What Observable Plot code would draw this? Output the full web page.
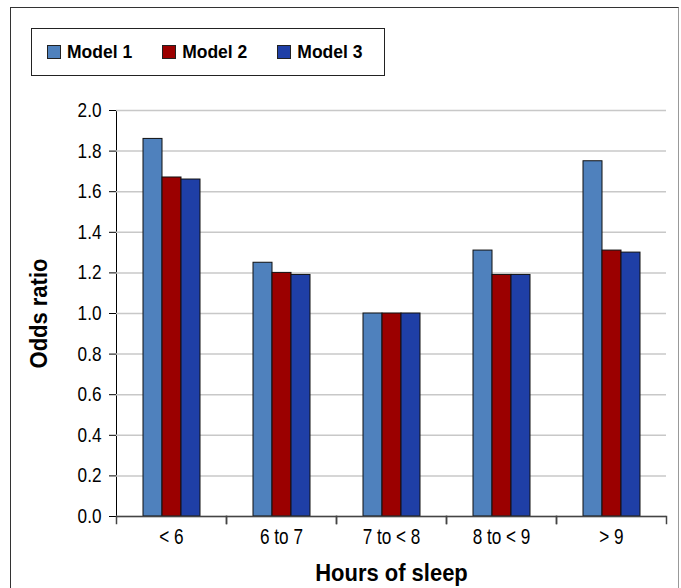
<!DOCTYPE html>
<html>
<head>
<meta charset="utf-8">
<script src="https://cdn.jsdelivr.net/npm/d3@7"></script>
<script src="https://cdn.jsdelivr.net/npm/@observablehq/plot@0.6"></script>
<style>
  html, body { margin: 0; padding: 0; background: #fff; }
  #wrap { position: relative; width: 681px; height: 588px; overflow: hidden; }
  #border { position: absolute; left: 10px; top: 7px; width: 667px; height: 600px;
            border-left: 1.5px solid #333; border-top: 1.5px solid #333; border-right: 1.5px solid #999; }
  #legend { position: absolute; left: 31px; top: 28px; width: 354px; height: 48px;
            border: 1.5px solid #222; display: flex; align-items: center; padding-left: 15px; box-sizing: border-box;
            font-family: "Liberation Sans", Arial, sans-serif; font-weight: bold; font-size: 17.5px; white-space: nowrap; }
  #legend .item { display: flex; align-items: center; margin-right: 30px; flex-shrink: 0; }
  #legend .sw { width: 12px; height: 12px; border: 1px solid #222; margin-right: 6px; flex-shrink: 0; }
  #chart { position: absolute; left: 0; top: 0; }
  #chart [aria-label="y-axis label"] text, #chart [aria-label="fx-axis label"] text { font-size: 24px; font-weight: bold; font-family: "Liberation Sans", Arial, sans-serif; }
  #chart [aria-label="y-axis tick label"] { font-family: "Liberation Sans", Arial, sans-serif; font-size: 20px; }
  #chart [aria-label="fx-axis tick label"] { font-family: "Liberation Sans", Arial, sans-serif; font-size: 22px; }
</style>
</head>
<body>
<div id="wrap">
  <div id="border"></div>
  <div id="legend"></div>
  <div id="chart"></div>
</div>
<script>
const categories = ["< 6", "6 to 7", "7 to < 8", "8 to < 9", "> 9"];
const models = ["Model 1", "Model 2", "Model 3"];
const model1 = [1.86, 1.25, 1.00, 1.31, 1.75];
const model2 = [1.67, 1.20, 1.00, 1.19, 1.31];
const model3 = [1.66, 1.19, 1.00, 1.19, 1.30];
const colors = ["#4f81bd", "#9b0000", "#1f3fa6"];
const yTicks = [0, 0.2, 0.4, 0.6, 0.8, 1.0, 1.2, 1.4, 1.6, 1.8, 2.0];
const xTitle = "Hours of sleep";
const yTitle = "Odds ratio";

const series = [model1, model2, model3];
const data = categories.flatMap((c, i) => models.map((m, j) => ({category: c, model: m, value: series[j][i]})));

// legend
const legend = document.getElementById("legend");
models.forEach((m, j) => {
  const it = document.createElement("div");
  it.className = "item";
  const sw = document.createElement("span");
  sw.className = "sw";
  sw.style.background = colors[j];
  const tx = document.createElement("span");
  tx.textContent = m;
  it.appendChild(sw); it.appendChild(tx);
  legend.appendChild(it);
});

const chart = Plot.plot({
  width: 681,
  height: 588,
  marginLeft: 114,
  marginRight: 13,
  marginTop: 110,
  marginBottom: 72,
  style: {background: "transparent", fontFamily: "Liberation Sans, Arial, sans-serif", fontSize: "17.5px", color: "#000"},
  fx: {domain: categories, padding: 0, label: xTitle, labelAnchor: "center", labelOffset: 64, tickSize: 0, tickPadding: 12},
  x: {domain: models, paddingInner: 0, paddingOuter: 1.275, axis: null},
  y: {domain: [0, 2], ticks: yTicks, tickFormat: d3.format(".1f"), tickSize: 7, tickPadding: 8, line: true,
      label: yTitle, labelAnchor: "center", labelOffset: 87, labelArrow: "none"},
  color: {domain: models, range: colors},
  marks: [
    Plot.gridY(yTicks, {stroke: "#c8c8c8", strokeOpacity: 1, strokeWidth: 1.5}),
    Plot.barY(data, {fx: "category", x: "model", y: "value", fill: "model", stroke: "#111", strokeWidth: 1}),
    Plot.ruleY([0], {stroke: "#444", strokeWidth: 1.5}),
    Plot.frame({anchor: "left", insetTop: 406, insetBottom: -7, stroke: "#444", strokeWidth: 1.5}),
    Plot.frame({anchor: "right", insetTop: 406, insetBottom: -7, stroke: "#444", strokeWidth: 1.5})
  ]
});

// condense text horizontally to mimic the narrow typeface of the original
function condense(selector, sx) {
  chart.querySelectorAll(selector).forEach(t => {
    const tr = t.getAttribute("transform");
    if (tr) t.setAttribute("transform", tr + ` scale(${sx},1)`);
  });
}
condense('[aria-label="y-axis tick label"] text', 0.86);
condense('[aria-label="fx-axis tick label"] text', 0.78);
condense('[aria-label="y-axis label"] text', 0.915);
condense('[aria-label="fx-axis label"] text', 0.915);

document.getElementById("chart").appendChild(chart);
</script>
</body>
</html>
